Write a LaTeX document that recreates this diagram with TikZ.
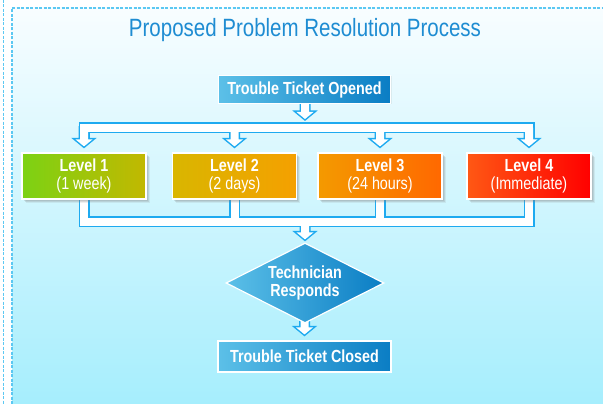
\documentclass[tikz,border=0pt]{standalone}
\usepackage{fontspec}
\newfontfamily\narrowsans{Liberation Sans}[FakeStretch=0.82]
\usetikzlibrary{shapes.geometric,shadows,calc}

\definecolor{pipeblue}{HTML}{1EAAF0}
\definecolor{titleblue}{HTML}{1E8CD2}
\definecolor{panelTop}{HTML}{F8FDFF}
\definecolor{panelBot}{HTML}{A6EEFD}
\definecolor{frameblue}{HTML}{5CC8F2}
\definecolor{blueL}{HTML}{5CC0E8}
\definecolor{blueR}{HTML}{0A7DC4}
\definecolor{lvAl}{HTML}{7CD214}\definecolor{lvAr}{HTML}{C2B800}
\definecolor{lvBl}{HTML}{D9B600}\definecolor{lvBr}{HTML}{F5A000}
\definecolor{lvCl}{HTML}{F49A00}\definecolor{lvCr}{HTML}{FF6800}
\definecolor{lvDl}{HTML}{FF5814}\definecolor{lvDr}{HTML}{FF0000}

\pgfdeclarelayer{back}
\pgfdeclarelayer{pipes}
\pgfsetlayers{back,pipes,main}

% hollow down arrow: #1 = start of shaft, #2 = tip (inner outline)
\newcommand\arrowbody[2]{%
  \filldraw[pipeblue, line width=3pt, line join=miter, miter limit=6]
    let \p1=(#1), \p2=(#2) in
    (\x2-4pt,\y1) -- (\x2-4pt,\y2+7pt) -- (\x2-8.5pt,\y2+7pt) -- (\x2,\y2)
    -- (\x2+8.5pt,\y2+7pt) -- (\x2+4pt,\y2+7pt) -- (\x2+4pt,\y1) -- cycle;}
\newcommand\arrowinside[2]{%
  \fill[white]
    let \p1=(#1), \p2=(#2) in
    (\x2-4pt,\y1) -- (\x2-4pt,\y2+7pt) -- (\x2-8.5pt,\y2+7pt) -- (\x2,\y2)
    -- (\x2+8.5pt,\y2+7pt) -- (\x2+4pt,\y2+7pt) -- (\x2+4pt,\y1) -- cycle;}

\tikzset{
  boxtext/.style={text=white, font=\narrowsans\fontsize{17.5}{17.5}\selectfont, align=center, inner sep=0pt},
  bluebox/.style={boxtext, draw=white, line width=1.2pt, left color=blueL, right color=blueR,
    font=\narrowsans\bfseries\fontsize{17.5}{17.5}\selectfont,
    drop shadow={shadow xshift=1pt, shadow yshift=-1pt, opacity=.12}},
  levelbox/.style={boxtext, draw=white, line width=1.2pt, minimum width=124pt, minimum height=46pt,
    drop shadow={shadow xshift=3.5pt, shadow yshift=-3.5pt, opacity=.12},
    drop shadow={shadow xshift=2.5pt, shadow yshift=-2.5pt, opacity=.2},
    drop shadow={shadow xshift=1.5pt, shadow yshift=-1.5pt, opacity=.2}},
  tubeout/.style={pipeblue, line width=11pt, line join=miter},
  tubein/.style={white, line width=8pt, line join=miter},
  dashframe/.style={frameblue, line width=1.1pt, dash pattern=on 3pt off 1.5pt}
}

\begin{document}
\begin{tikzpicture}[x=1pt, y=-1pt]
\useasboundingbox (0,0) rectangle (603,404);

% panel
\begin{pgfonlayer}{back}
  \fill[white] (0,0) rectangle (603,404);
  \shade[top color=panelTop, bottom color=panelBot] (12,8) rectangle (603,404);
  \draw[dashframe] (12,404) -- (12,8) -- (603,8);
  \draw[dashframe] (3.5,0) -- (3.5,404);
\end{pgfonlayer}

% title
\node[anchor=base, text=titleblue, inner sep=0pt,
      font=\narrowsans\fontsize{25}{25}\selectfont] (title) at (305,37)
  {Proposed Problem Resolution Process};

% boxes
\node[bluebox, minimum width=172pt, minimum height=28pt] (op) at (304.5,89.5) {Trouble Ticket Opened};

\node[levelbox, left color=lvAl, right color=lvAr] (l1) at (84,176)  {\bfseries Level 1\\(1 week)};
\node[levelbox, left color=lvBl, right color=lvBr] (l2) at (234.5,176) {\bfseries Level 2\\(2 days)};
\node[levelbox, left color=lvCl, right color=lvCr] (l3) at (380,176) {\bfseries Level 3\\(24 hours)};
\node[levelbox, left color=lvDl, right color=lvDr] (l4) at (529,176) {\bfseries Level 4\\(Immediate)};

\node[diamond, aspect=2, draw=white, line width=1.2pt, left color=blueL, right color=blueR,
      minimum width=158pt, minimum height=80pt, inner sep=0pt, text=white, align=center,
      font=\narrowsans\bfseries\fontsize{17.5}{18}\selectfont] (dia) at (305,283)
  {Technician\\Responds};

\node[bluebox, minimum width=173pt, minimum height=31pt] (cl) at (304.5,356.5) {Trouble Ticket Closed};

% bus junctions and arrow ends
\coordinate (topbus) at (305,127.5);
\coordinate (botbus) at (305,221.5);
\coordinate (opTip) at ($(topbus)+(0,-8.5)$);
\coordinate (diaTip) at ($(dia.north)+(0,-3)$);
\coordinate (clTip) at ($(cl.north)+(0,-6)$);
\coordinate (aTop) at (l1.north |- topbus);
\coordinate (bTop) at (l2.north |- topbus);
\coordinate (cTop) at (l3.north |- topbus);
\coordinate (dTop) at (l4.north |- topbus);
\coordinate (aTip) at ($(l1.north)+(0,-6)$);
\coordinate (bTip) at ($(l2.north)+(0,-6)$);
\coordinate (cTip) at ($(l3.north)+(0,-6)$);
\coordinate (dTip) at ($(l4.north)+(0,-6)$);
\coordinate (aStem) at ($(l1.north)+(0,-14)$);
\coordinate (dStem) at ($(l4.north)+(0,-14)$);

\begin{pgfonlayer}{pipes}
  % outlines
  \draw[tubeout] (aStem) -- (aTop) -- (dTop) -- (dStem);
  \draw[tubeout] (l1.center) -- (l1.center |- botbus) -- (l4.center |- botbus) -- (l4.center);
  \draw[tubeout] (l2.center) -- (l2.center |- botbus);
  \draw[tubeout] (l3.center) -- (l3.center |- botbus);
  \arrowbody{op.center}{opTip}
  \arrowbody{aTop}{aTip}
  \arrowbody{bTop}{bTip}
  \arrowbody{cTop}{cTip}
  \arrowbody{dTop}{dTip}
  \arrowbody{botbus}{diaTip}
  \arrowbody{dia.center}{clTip}
  % white interiors
  \draw[tubein] (aStem) -- (aTop) -- (dTop) -- (dStem);
  \draw[tubein] (l1.center) -- (l1.center |- botbus) -- (l4.center |- botbus) -- (l4.center);
  \draw[tubein] (l2.center) -- (l2.center |- botbus);
  \draw[tubein] (l3.center) -- (l3.center |- botbus);
  \arrowinside{op.center}{opTip}
  \arrowinside{aTop}{aTip}
  \arrowinside{bTop}{bTip}
  \arrowinside{cTop}{cTip}
  \arrowinside{dTop}{dTip}
  \arrowinside{botbus}{diaTip}
  \arrowinside{dia.center}{clTip}
\end{pgfonlayer}
\end{tikzpicture}
\end{document}
